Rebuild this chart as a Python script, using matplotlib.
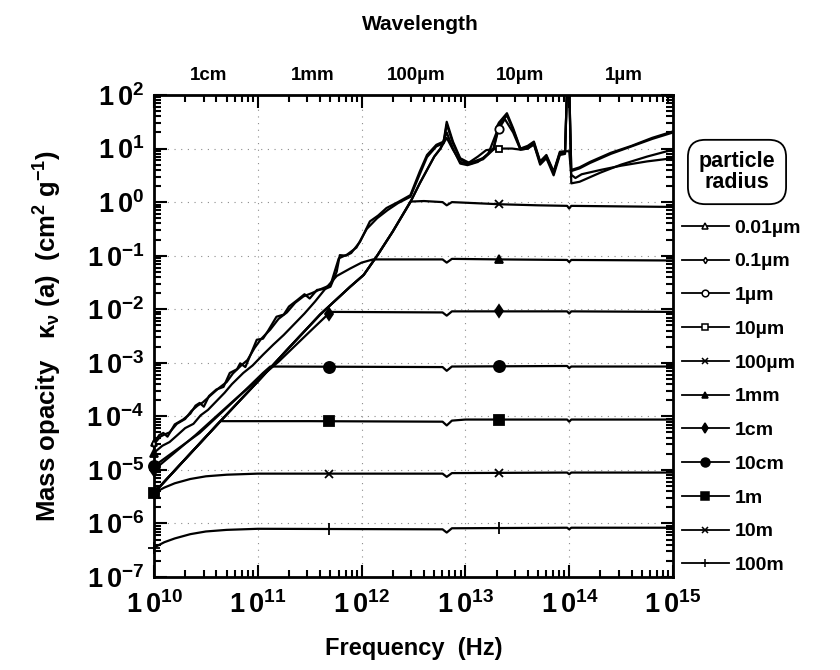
import numpy as np
import matplotlib
matplotlib.use("Agg")
import matplotlib.pyplot as plt
from matplotlib.lines import Line2D
from matplotlib.ticker import FixedLocator, FuncFormatter, LogLocator, NullFormatter
import matplotlib.transforms as mtransforms

plt.rcParams['font.family'] = ['Liberation Sans', 'DejaVu Sans']
plt.rcParams['font.weight'] = 'bold'
plt.rcParams['mathtext.fontset'] = 'custom'
plt.rcParams['mathtext.rm'] = 'Liberation Sans:bold'
plt.rcParams['mathtext.bf'] = 'Liberation Sans:bold'
plt.rcParams['mathtext.it'] = 'Liberation Sans:bold:italic'
plt.rcParams['mathtext.default'] = 'bf'

# ---------------- data (log10 of frequency [Hz] and of opacity [cm^2/g]) ----------------
labels = ["0.01µm", "0.1µm", "1µm", "10µm", "100µm", "1mm", "1cm", "10cm", "1m", "10m", "100m"]
markers = ["^", "d", "o", "s", "x", "^", "d", "o", "s", "x", "+"]
filled = [False, False, False, False, False, True, True, True, True, False, False]
msizes = [5, 4, 6, 5, 6, 6, 6, 8, 7, 6, 8]
# frequencies where each curve carries its symbol
marker_freqs = [[1e10, 2.1e13], [1e10, 2.1e13], [1e10, 2.1e13], [1e10, 2.1e13], [1e10, 2.1e13],
                [1e10, 2.1e13], [1e10, 4.8e11, 2.1e13], [1e10, 4.8e11, 2.1e13],
                [1e10, 4.8e11, 2.1e13], [4.8e11, 2.1e13], [1e10, 4.8e11, 2.1e13]]

lognu_001um = [10.0, 10.05, 10.09, 10.13, 10.2, 10.28, 10.35, 10.4, 10.44, 10.48, 10.53, 10.6, 10.67, 10.73,
               10.8, 10.83, 10.88, 10.93, 10.99, 11.05, 11.1, 11.18, 11.25, 11.3, 11.38, 11.45, 11.5, 11.57,
               11.65, 11.7, 11.76, 11.79, 11.85, 11.9, 11.985, 12.08, 12.16, 12.24, 12.35, 12.47, 12.56, 12.63,
               12.72, 12.79, 12.82, 12.88, 12.95, 13.04, 13.17, 13.27, 13.33, 13.4, 13.46, 13.53, 13.6, 13.66,
               13.72, 13.78, 13.85, 13.91, 13.96, 13.98, 14.0, 14.02, 14.1, 14.2, 14.4, 14.6, 14.8, 15.0]
logk_001um = [-4.5, -4.35, -4.31, -4.38, -4.15, -4.06, -3.95, -3.8, -3.75, -3.82, -3.62, -3.5, -3.45, -3.19,
              -3.12, -3.01, -3.08, -2.85, -2.57, -2.55, -2.4, -2.14, -2.1, -1.95, -1.83, -1.72, -1.8, -1.64,
              -1.62, -1.58, -1.3, -0.99, -1.0, -0.95, -0.74, -0.36, -0.25, -0.11, 0.0, 0.13, 0.57, 0.88,
              1.07, 1.13, 1.5, 1.13, 0.82, 0.73, 0.82, 1.0, 1.5, 1.66, 1.38, 1.0, 1.05, 1.13,
              0.76, 0.88, 0.57, 0.94, 0.95, 2.2, 2.2, 0.6, 0.65, 0.75, 0.92, 1.05, 1.2, 1.32]

lognu_01um = [10.0, 10.06, 10.1, 10.15, 10.22, 10.3, 10.36, 10.42, 10.47, 10.55, 10.62, 10.7, 10.76, 10.84,
              10.9, 10.97, 11.03, 11.12, 11.2, 11.28, 11.36, 11.44, 11.52, 11.6, 11.7, 11.78, 11.86, 11.95,
              12.05, 12.15, 12.25, 12.35, 12.47, 12.56, 12.63, 12.72, 12.79, 12.82, 12.88, 12.95, 13.04,
              13.17, 13.27, 13.33, 13.4, 13.46, 13.53, 13.6, 13.66, 13.72, 13.78, 13.85, 13.91, 13.96,
              13.98, 14.0, 14.02, 14.1, 14.2, 14.4, 14.6, 14.8, 15.0]
logk_01um = [-4.52, -4.38, -4.34, -4.3, -4.14, -4.05, -3.9, -3.8, -3.74, -3.6, -3.48, -3.36, -3.2, -3.05,
             -2.95, -2.72, -2.56, -2.38, -2.18, -2.06, -1.88, -1.76, -1.7, -1.63, -1.55, -1.05, -0.98, -0.85,
             -0.5, -0.3, -0.15, -0.02, 0.1, 0.52, 0.84, 1.04, 1.1, 1.45, 1.1, 0.8, 0.71, 0.8, 0.98, 1.45,
             1.62, 1.35, 0.99, 1.03, 1.11, 0.74, 0.86, 0.55, 0.92, 0.93, 2.2, 2.2, 0.58, 0.63, 0.73,
             0.9, 1.04, 1.18, 1.3]

lognu_1um = [10.0, 10.3, 10.64, 11.0, 11.3, 11.6, 11.89, 12.02, 12.15, 12.3, 12.47, 12.56, 12.63, 12.7,
             12.76, 12.82, 12.88, 12.95, 13.02, 13.12, 13.22, 13.3, 13.38, 13.46, 13.53, 13.6, 13.66,
             13.72, 13.78, 13.85, 13.91, 13.96, 13.98, 14.0, 14.02, 14.1, 14.3, 14.5, 14.75, 15.0]
logk_1um = [-5.43, -4.8, -4.09, -3.35, -2.72, -2.1, -1.58, -1.36, -1.0, -0.55, 0.0, 0.35, 0.6, 0.85,
            1.0, 1.3, 1.0, 0.72, 0.69, 0.75, 0.9, 1.3, 1.55, 1.3, 0.98, 1.0, 1.08,
            0.7, 0.82, 0.5, 0.88, 0.9, 2.2, 2.2, 0.35, 0.38, 0.55, 0.7, 0.85, 0.98]

lognu_10um = [10.0, 10.3, 10.64, 11.0, 11.3, 11.6, 11.89, 12.02, 12.15, 12.3, 12.47, 12.56, 12.63, 12.7,
              12.76, 12.82, 12.88, 12.95, 13.02, 13.12, 13.2, 13.32, 13.45, 13.53, 13.6, 13.66, 13.72,
              13.78, 13.85, 13.91, 13.97, 14.0, 14.02, 14.06, 14.12, 14.3, 14.5, 14.75, 15.0]
logk_10um = [-5.43, -4.8, -4.09, -3.35, -2.72, -2.1, -1.58, -1.36, -1.0, -0.55, 0.0, 0.35, 0.6, 0.85,
             1.0, 1.2, 0.98, 0.75, 0.72, 0.85, 0.97, 1.0, 1.0, 0.98, 1.0, 1.08, 0.74,
             0.84, 0.55, 0.9, 0.95, 0.95, 0.51, 0.45, 0.52, 0.6, 0.68, 0.76, 0.82]

lognu_100um = [10.0, 10.3, 10.64, 11.0, 11.3, 11.6, 11.89, 12.02, 12.15, 12.3, 12.47, 12.6, 12.78, 12.82,
               12.87, 13.1, 13.33, 13.7, 13.98, 14.0, 14.02, 14.5, 15.0]
logk_100um = [-5.43, -4.8, -4.09, -3.35, -2.72, -2.1, -1.58, -1.36, -1.0, -0.55, 0.01, 0.02, 0.0, -0.06,
              0.0, -0.02, -0.04, -0.06, -0.07, -0.12, -0.07, -0.08, -0.09]

lognu_1mm = [10.0, 10.08, 10.15, 10.22, 10.3, 10.38, 10.45, 10.52, 10.6, 10.68, 10.75, 10.86, 10.95, 11.05,
             11.15, 11.25, 11.35, 11.45, 11.55, 11.65, 11.76, 11.89, 12.0, 12.11, 12.78, 12.82, 12.87,
             13.33, 13.98, 14.0, 14.02, 15.0]
logk_1mm = [-4.68, -4.55, -4.48, -4.36, -4.22, -4.14, -3.98, -3.88, -3.72, -3.56, -3.4, -3.19, -3.05, -2.85,
            -2.66, -2.48, -2.28, -2.08, -1.86, -1.62, -1.38, -1.24, -1.13, -1.07, -1.07, -1.13, -1.06,
            -1.07, -1.08, -1.12, -1.08, -1.09]

lognu_1cm = [10.0, 10.4, 10.8, 11.2, 11.5, 11.7, 12.78, 12.82, 12.87, 13.98, 14.0, 14.02, 15.0]
logk_1cm = [-5.0, -4.35, -3.65, -2.98, -2.42, -2.05, -2.06, -2.12, -2.04, -2.04, -2.08, -2.04, -2.05]

lognu_10cm = [10.0, 10.44, 10.8, 11.05, 11.12, 12.78, 12.82, 12.87, 13.98, 14.0, 14.02, 15.0]
logk_10cm = [-4.93, -4.31, -3.66, -3.19, -3.07, -3.08, -3.15, -3.07, -3.06, -3.1, -3.07, -3.07]

lognu_1m = [10.0, 10.3, 10.64, 11.5, 12.78, 12.82, 12.87, 13.0, 13.98, 14.0, 14.02, 15.0]
logk_1m = [-5.43, -4.8, -4.09, -4.09, -4.1, -4.17, -4.08, -4.06, -4.06, -4.1, -4.06, -4.06]

lognu_10m = [10.0, 10.1, 10.2, 10.35, 10.5, 10.7, 11.0, 12.78, 12.82, 12.87, 13.98, 14.0, 14.02, 15.0]
logk_10m = [-5.43, -5.33, -5.25, -5.17, -5.12, -5.09, -5.07, -5.07, -5.13, -5.06, -5.05, -5.08, -5.05, -5.05]

lognu_100m = [10.0, 10.1, 10.2, 10.35, 10.5, 10.7, 11.0, 12.78, 12.82, 12.87, 13.98, 14.0, 14.02, 15.0]
logk_100m = [-6.45, -6.35, -6.28, -6.2, -6.15, -6.12, -6.1, -6.11, -6.17, -6.09, -6.08, -6.11, -6.08, -6.08]

series_nu = [lognu_001um, lognu_01um, lognu_1um, lognu_10um, lognu_100um, lognu_1mm,
             lognu_1cm, lognu_10cm, lognu_1m, lognu_10m, lognu_100m]
series_k = [logk_001um, logk_01um, logk_1um, logk_10um, logk_100um, logk_1mm,
            logk_1cm, logk_10cm, logk_1m, logk_10m, logk_100m]

wl_labels = ["1cm", "1mm", "100µm", "10µm", "1µm"]
wl_freqs = [3e10, 3e11, 3e12, 3e13, 3e14]

# ---------------- figure ----------------
fig = plt.figure(figsize=(8.4, 6.7), dpi=100)
ax = fig.add_axes([154 / 840, 1 - 577 / 670, (673 - 154) / 840, (577 - 95) / 670])
ax.set_xscale('log')
ax.set_yscale('log')
ax.set_xlim(1e10, 1e15)
ax.set_ylim(1e-7, 1e2)

for nu, k, m, f, ms, mf in zip(series_nu, series_k, markers, filled, msizes, marker_freqs):
    x = 10 ** np.array(nu)
    y = 10 ** np.array(k)
    ax.plot(x, y, color='black', lw=1.6, solid_joinstyle='round')
    my = 10 ** np.interp(np.log10(mf), nu, k)
    ax.plot(mf, my, ls='none', marker=m, ms=ms, mec='black',
            mfc='black' if f else 'white', mew=1.3, clip_on=False, zorder=3)

# grid
for e in range(11, 15):
    ax.axvline(10.0 ** e, color='0.55', lw=0.8, ls=(0, (1, 5)), zorder=0)
for e in range(-6, 2):
    ax.axhline(10.0 ** e, color='0.55', lw=0.8, ls=(0, (1, 5)), zorder=0)

for s in ax.spines.values():
    s.set_linewidth(2.0)

ax.xaxis.set_major_locator(FixedLocator([10.0 ** e for e in range(10, 16)]))
ax.yaxis.set_major_locator(FixedLocator([10.0 ** e for e in range(-7, 3)]))
ax.xaxis.set_minor_locator(LogLocator(base=10, subs=np.arange(2, 10), numticks=20))
ax.yaxis.set_minor_locator(LogLocator(base=10, subs=np.arange(2, 10), numticks=20))
ax.xaxis.set_minor_formatter(NullFormatter())
ax.yaxis.set_minor_formatter(NullFormatter())
fmt = FuncFormatter(lambda v, p: r'$\mathbf{1\,0^{%d}}$' % int(round(np.log10(v))))
ax.xaxis.set_major_formatter(fmt)
ax.yaxis.set_major_formatter(fmt)
ax.tick_params(which='both', direction='in', top=True, right=True, width=1.5)
ax.tick_params(which='major', length=9, labelsize=19.5)
ax.tick_params(axis='x', which='major', pad=10)
ax.tick_params(axis='y', which='major', pad=7)
ax.tick_params(which='minor', length=5)

# top wavelength labels
trans = mtransforms.blended_transform_factory(ax.transData, ax.transAxes)
for f, lab in zip(wl_freqs, wl_labels):
    ax.text(f * 1.12, 1.022, lab, transform=trans, ha='center', va='bottom',
            fontsize=13.5, fontweight='bold')
fig.text(0.5, 0.963, "Wavelength", ha='center', va='center', fontsize=15, fontweight='bold')

ax.set_xlabel("Frequency  (Hz)", fontsize=17, fontweight='bold', labelpad=13)
ax.set_ylabel(r"Mass opacity   $\kappa_\nu$ (a)  (cm$^2$ g$^{-1}$)", fontsize=18.5,
              fontweight='bold', labelpad=16)

# legend
fig.text(737 / 840, 1 - 172 / 670, "particle\nradius", ha='center', va='center',
         fontsize=15.5, fontweight='bold', linespacing=1.05,
         bbox=dict(boxstyle='round,pad=0.5,rounding_size=0.8', fc='white', ec='black', lw=1.3))
handles = []
for lab, m, f, ms in zip(labels, markers, filled, msizes):
    handles.append(Line2D([0], [0], color='black', lw=1.3, marker=m, ms=ms * 0.8,
                          mec='black', mfc='black' if f else 'white', mew=1.1, label=lab))
fig.legend(handles=handles, loc='upper left', bbox_to_anchor=(682 / 840, 1 - 219 / 670),
           frameon=False, fontsize=14, handlelength=2.4, handletextpad=0.3,
           labelspacing=0.83, borderaxespad=0, borderpad=0)

fig.savefig("out.png", dpi=100)
